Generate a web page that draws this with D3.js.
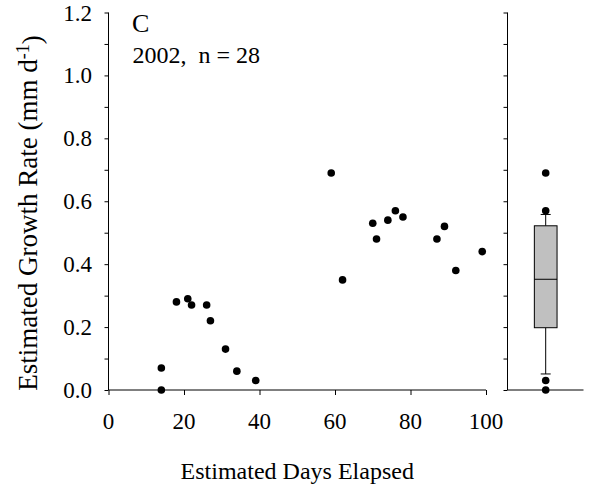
<!DOCTYPE html>
<html>
<head>
<meta charset="utf-8">
<script src="https://cdn.jsdelivr.net/npm/d3@7"></script>
<style>
  html, body { margin: 0; padding: 0; background: #fff; }
  svg text { font-family: "Liberation Serif", "Times New Roman", Times, serif; fill: #000; }
</style>
</head>
<body>
<svg id="chart" width="589" height="488"></svg>
<script>
// ---- data ----
const days = [14, 14, 18, 21, 22, 26, 27, 31, 34, 39, 59, 62, 70, 71, 74, 76, 78, 87, 89, 92, 99];
const growth = [0.07, 0.00, 0.28, 0.29, 0.27, 0.27, 0.22, 0.13, 0.06, 0.03, 0.69, 0.35, 0.53, 0.48, 0.54, 0.57, 0.55, 0.48, 0.52, 0.38, 0.44];
// box plot summary (10th, 25th, 50th, 75th, 90th percentiles) and points beyond
const boxStats = [0.051, 0.198, 0.352, 0.522, 0.558];
const boxOutliers = [0.69, 0.57, 0.03, 0.00];
const xTicks = [0, 20, 40, 60, 80, 100];
const yTicks = [0.0, 0.2, 0.4, 0.6, 0.8, 1.0, 1.2];
const yMinorTicks = [0.0, 0.1, 0.2, 0.3, 0.4, 0.5, 0.6, 0.7, 0.8, 0.9, 1.0, 1.1, 1.2];
const panelLabel = "C";
const subLabel = "2002,  n = 28";

const svg = d3.select("#chart");

const x = d3.scaleLinear().domain([0, 100]).range([108.5, 486]);
const y = d3.scaleLinear().domain([0, 1.2]).range([390, 12.5]);

const tickFont = "23px";

// ---- left panel axes ----
const yAxisL = svg.append("g").attr("transform", `translate(${x(0)},0)`)
  .call(d3.axisLeft(y).tickValues(yMinorTicks).tickSize(4).tickFormat(""));
const yLabels = svg.append("g");
yLabels.selectAll("text").data(yTicks).join("text")
  .attr("x", 92).attr("y", d => y(d)).attr("dy", "0.35em")
  .attr("text-anchor", "end").style("font-size", tickFont)
  .text(d => d.toFixed(1));

const xAxis = svg.append("g").attr("transform", `translate(0,${y(0)})`)
  .call(d3.axisBottom(x).tickValues(xTicks).tickSize(5).tickFormat(""));
svg.append("g").selectAll("text").data(xTicks).join("text")
  .attr("x", d => x(d)).attr("y", 428.5)
  .attr("text-anchor", "middle").style("font-size", tickFont)
  .text(d => d);

[yAxisL, xAxis].forEach(g => {
  g.select(".domain").attr("stroke", "#000").attr("stroke-width", 1);
  g.selectAll(".tick line").attr("stroke", "#000");
});
xAxis.select(".domain").attr("d", `M${x(0)},0H${x(100)}`);
yAxisL.select(".domain").attr("d", `M0,${y(0)}V${y(1.2)}`);

// points
svg.append("g").selectAll("circle").data(days).join("circle")
  .attr("cx", d => x(d)).attr("cy", (d, i) => y(growth[i]))
  .attr("r", 3.8).attr("fill", "#000");

// labels
svg.append("text").attr("x", 132).attr("y", 32).style("font-size", "26px").text(panelLabel);
svg.append("text").attr("x", 132.5).attr("y", 63).style("font-size", "24px").style("white-space", "pre")
  .attr("xml:space", "preserve").text(subLabel);

svg.append("text").attr("x", x(50)).attr("y", 479).attr("text-anchor", "middle")
  .style("font-size", "24px").text("Estimated Days Elapsed");

const yl = svg.append("text").attr("transform", `translate(37,213) rotate(-90)`)
  .attr("text-anchor", "middle").style("font-size", "27px");
yl.append("tspan").text("Estimated Growth Rate (mm d");
yl.append("tspan").attr("dy", "-0.45em").style("font-size", "18px").text("-1");
yl.append("tspan").attr("dy", "0.45em").text(")");

// ---- right panel (box plot) ----
const bx = d3.scaleBand().domain(["all"]).range([507.5, 583.5]).padding(0);
const bLeft = bx("all"), bRight = bLeft + bx.bandwidth();
const bc = 545.7, bw = 22.7, capW = 10;

const yAxisR = svg.append("g").attr("transform", `translate(${bLeft},0)`)
  .call(d3.axisLeft(y).tickValues(yMinorTicks).tickSize(4).tickFormat(""));
yAxisR.select(".domain").attr("d", `M0,${y(0)}V${y(1.2)}`).attr("stroke", "#000");
yAxisR.selectAll(".tick line").attr("stroke", "#000");
svg.append("line").attr("x1", bLeft).attr("x2", bRight).attr("y1", y(0)).attr("y2", y(0)).attr("stroke", "#000");

const [p10, q1, med, q3, p90] = boxStats;
const bg = svg.append("g");
bg.append("line").attr("x1", bc).attr("x2", bc).attr("y1", y(p10)).attr("y2", y(q1)).attr("stroke", "#000");
bg.append("line").attr("x1", bc).attr("x2", bc).attr("y1", y(q3)).attr("y2", y(p90)).attr("stroke", "#000");
bg.append("line").attr("x1", bc - capW/2).attr("x2", bc + capW/2).attr("y1", y(p10)).attr("y2", y(p10)).attr("stroke", "#000");
bg.append("line").attr("x1", bc - capW/2).attr("x2", bc + capW/2).attr("y1", y(p90)).attr("y2", y(p90)).attr("stroke", "#000");
bg.append("rect").attr("x", bc - bw/2).attr("width", bw)
  .attr("y", y(q3)).attr("height", y(q1) - y(q3))
  .attr("fill", "#c0c0c0").attr("stroke", "#000");
bg.append("line").attr("x1", bc - bw/2).attr("x2", bc + bw/2).attr("y1", y(med)).attr("y2", y(med)).attr("stroke", "#000");
bg.selectAll("circle").data(boxOutliers).join("circle")
  .attr("cx", bc).attr("cy", d => y(d)).attr("r", 3.8).attr("fill", "#000");
</script>
</body>
</html>
